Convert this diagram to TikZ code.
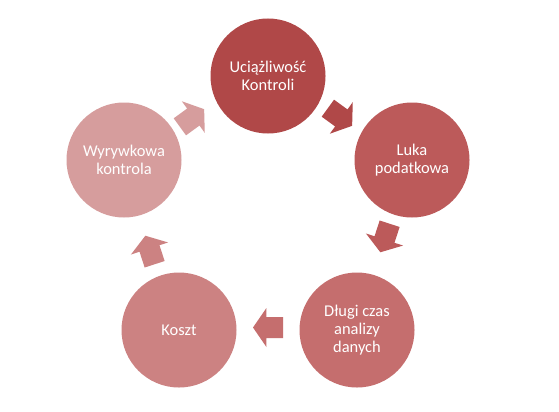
\documentclass[tikz,border=0pt]{standalone}
\usepackage{fontspec}
\setmainfont{Carlito}
\definecolor{cA}{HTML}{B04848}
\definecolor{cB}{HTML}{BC5A5A}
\definecolor{cC}{HTML}{C56E6E}
\definecolor{cD}{HTML}{CC8282}
\definecolor{cE}{HTML}{D69D9D}
\tikzset{
  stage/.style={circle, minimum size=115bp, inner sep=0pt, text=white, align=center,
    font=\fontsize{16.5}{18}\selectfont},
  cyclearrow/.pic={\path[pic actions] (-15,-10.5) -- (1.6,-10.5) -- (1.6,-19.5) -- (15,0)
     -- (1.6,19.5) -- (1.6,10.5) -- (-15,10.5) -- cycle;}
}
\begin{document}
\begin{tikzpicture}[x=1bp,y=1bp]
\fill[white] (0,0) rectangle (559,411);
\useasboundingbox (0,0) rectangle (559,411);
\node[stage, fill=cA] (n1) at (268,335) {Uciążliwość\\Kontroli};
\node[stage, fill=cB] (n2) at (412,251) {Luka\\podatkowa};
\node[stage, fill=cC] (n3) at (357,81) {Długi czas\\analizy\\danych};
\node[stage, fill=cD] (n4) at (179,81) {Koszt};
\node[stage, fill=cE] (n5) at (124,251) {Wyrywkowa\\kontrola};
\coordinate (a1) at (340,294);
\coordinate (a2) at (385,173);
\coordinate (a3) at (268,83.5);
\coordinate (a4) at (150,161);
\coordinate (a5) at (192,293);
\pic[fill=cA, rotate=-36] at (a1) {cyclearrow};
\pic[fill=cB, rotate=-108] at (a2) {cyclearrow};
\pic[fill=cC, rotate=180] at (a3) {cyclearrow};
\pic[fill=cD, rotate=108] at (a4) {cyclearrow};
\pic[fill=cE, rotate=36] at (a5) {cyclearrow};
\end{tikzpicture}
\end{document}
